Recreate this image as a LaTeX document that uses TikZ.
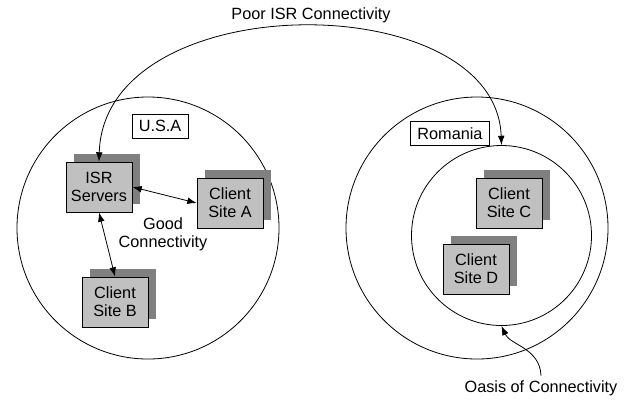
\documentclass[tikz,border=0pt]{standalone}
\usepackage{fontspec}
\setmainfont{Liberation Sans}
\usetikzlibrary{
    arrows.meta,
    shadows,
    positioning
}
\definecolor{siteGray}{RGB}{192,192,192}
\definecolor{shadowGray}{RGB}{128,128,128}

\begin{document}
\begin{tikzpicture}[x=0.75pt, y=-0.75pt,
    every node/.style={font=\fontsize{12.2}{13.75}\selectfont},
    region/.style={draw, circle, line width=0.6pt, inner sep=0pt},
    place/.style={draw, fill=white, line width=0.6pt, inner xsep=5pt, minimum height=18pt},
    site/.style={draw, fill=siteGray, line width=0.6pt, align=center,
        minimum width=49.5pt, minimum height=37.5pt, inner sep=0pt,
        copy shadow={shadow xshift=6pt, shadow yshift=6pt, fill=shadowGray, draw=none}},
    link/.style={line width=0.6pt, {Latex[length=7pt,width=5pt]}-{Latex[length=7pt,width=5pt]}},
    oneway/.style={line width=0.6pt, -{Latex[length=7pt,width=5pt]}}]
                        \useasboundingbox (0, 0) rectangle (630, 401);
                        % regions
                        \node[region, minimum size=196.5pt] (usaRegion) at (148, 228) {};
                        \node[region, minimum size=196.5pt] (romRegion) at (477, 228) {};
                        \node[region, minimum size=135pt] (oasisRegion) at (501.5, 235.5) {};
                        \node[place] (usaLabel) at (160, 126) {U.S.A};
                        \node[place] (romLabel) at (450, 133.5) {Romania};
                        % sites
                        \node[site] (isr) at (99, 187) {ISR\\Servers};
                        \node[site] (siteA) at (230, 203) {Client\\Site A};
                        \node[site] (siteB) at (115, 302) {Client\\Site B};
                        \node[site] (siteC) at (509, 203) {Client\\Site C};
                        \node[site] (siteD) at (476, 269) {Client\\Site D};
                        % links
                        \draw[link] (isr.east) -- (siteA.west);
                        \draw[link] (isr.south) -- (siteB.north);
                        \node[align=center] (goodText) at (163, 234) {Good\\Connectivity};
                        \draw[link] (isr.north) .. controls (104, -15) and (496, -15) .. (oasisRegion.north);
                        \node (poorText) at (311, 15) {Poor ISR Connectivity};
                        \node (oasisText) at (541, 388) {Oasis of Connectivity};
                        \draw[oneway] (oasisText.north) .. controls (540, 348) and (510, 345) .. (oasisRegion.south);
                    \end{tikzpicture}
\end{document}
